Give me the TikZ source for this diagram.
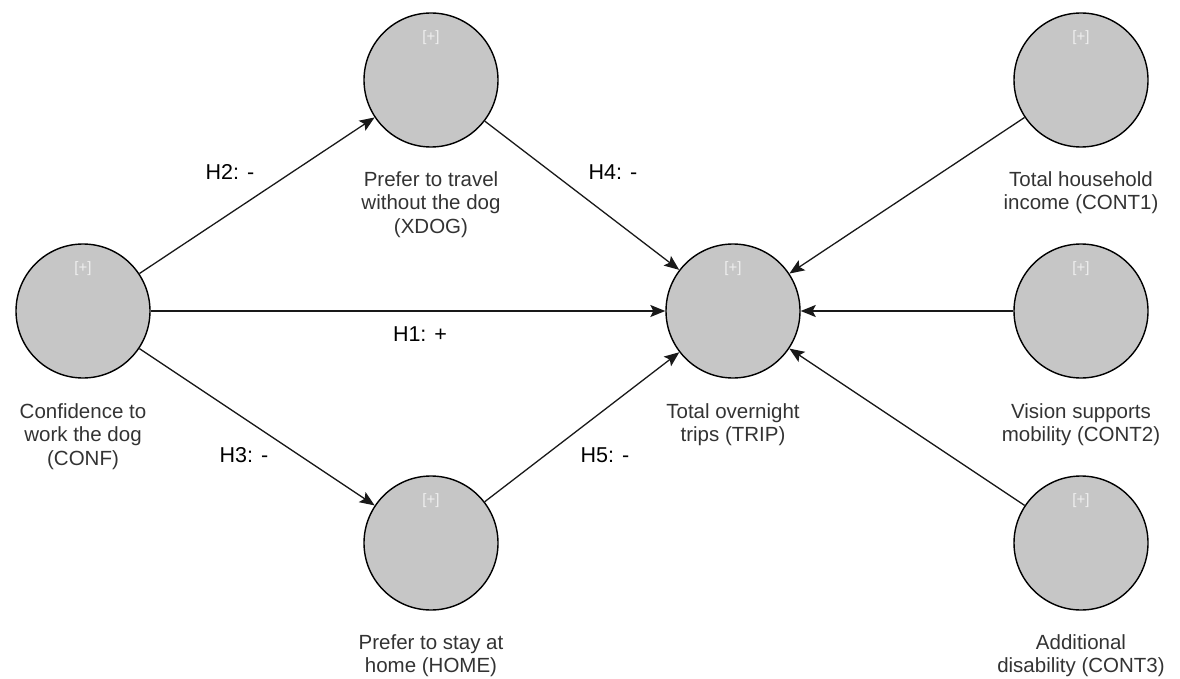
\documentclass[tikz,border=0pt]{standalone}
\usepackage{fontspec}
\setmainfont{Liberation Sans}
\usetikzlibrary{arrows.meta}
\definecolor{circfill}{HTML}{C6C6C6}
\definecolor{labtext}{HTML}{333333}
\definecolor{plustext}{HTML}{EFEFEF}
\tikzset{
  construct/.style={circle, draw=black, line width=1.4pt, fill=circfill,
    minimum size=134pt, inner sep=0pt},
  plusmark/.style={text=plustext, font=\fontsize{15}{17}\selectfont, inner sep=0pt},
  caption/.style={text=labtext, align=center, anchor=north, inner sep=0pt,
    font=\fontsize{20.5}{23.5}\selectfont},
  hyp/.style={text=black, inner sep=0pt, font=\fontsize{21.5}{24}\selectfont},
  path/.style={draw=black!90, line width=1.3pt,
    -{Stealth[length=15pt, width=12pt, inset=3pt]}}
}
\begin{document}
\begin{tikzpicture}[x=1pt, y=-1pt]
\useasboundingbox (0,0) rectangle (1180,679);

% latent constructs
\node[construct] (conf)  at (83,311)   {};
\node[construct] (xdog)  at (431,80)   {};
\node[construct] (home)  at (431,543)  {};
\node[construct] (trip)  at (733,311)  {};
\node[construct] (cont1) at (1081,80)  {};
\node[construct] (cont2) at (1081,311) {};
\node[construct] (cont3) at (1081,543) {};

% expand markers near the top of each construct
\foreach \n in {conf,xdog,home,trip,cont1,cont2,cont3}
  \node[plusmark] (\n-plus) at ([yshift=42pt]\n.center) {[+]};

% construct captions
\node[caption] (conf-cap)  at (83,403)   {Confidence to\\work the dog\\(CONF)};
\node[caption] (xdog-cap)  at (431,171)  {Prefer to travel\\without the dog\\(XDOG)};
\node[caption] (home-cap)  at (431,634)  {Prefer to stay at\\home (HOME)};
\node[caption] (trip-cap)  at (733,403)  {Total overnight\\trips (TRIP)};
\node[caption] (cont1-cap) at (1081,171) {Total household\\income (CONT1)};
\node[caption] (cont2-cap) at (1081,403) {Vision supports\\mobility (CONT2)};
\node[caption] (cont3-cap) at (1081,634) {Additional\\disability (CONT3)};

% structural paths
\draw[path] (conf) -- (xdog);
\draw[path] (conf) -- (trip);
\draw[path] (conf) -- (home);
\draw[path] (xdog) -- (trip);
\draw[path] (home) -- (trip);
\draw[path] (cont1) -- (trip);
\draw[path] (cont2) -- (trip);
\draw[path] (cont3) -- (trip);

% hypotheses
\node[hyp] (h1) at (420,334) {H1: +};
\node[hyp] (h2) at (230,172) {H2: -};
\node[hyp] (h3) at (244,455) {H3: -};
\node[hyp] (h4) at (613,172) {H4: -};
\node[hyp] (h5) at (605,455) {H5: -};
\end{tikzpicture}
\end{document}
